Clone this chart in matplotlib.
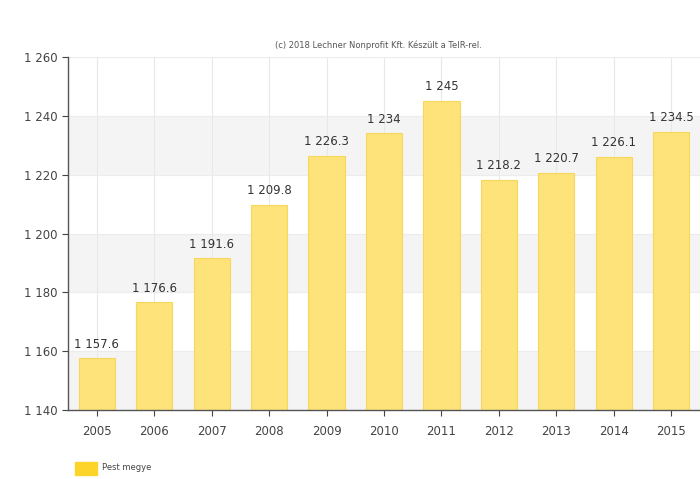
import matplotlib
matplotlib.use("Agg")
import matplotlib.pyplot as plt
from matplotlib.patches import Rectangle

# Adatok
years = ["2005", "2006", "2007", "2008", "2009", "2010", "2011", "2012", "2013", "2014", "2015"]
values = [1157.6, 1176.6, 1191.6, 1209.8, 1226.3, 1234, 1245, 1218.2, 1220.7, 1226.1, 1234.5]
y_ticks = [1140, 1160, 1180, 1200, 1220, 1240, 1260]


def fmt(v):
    # magyar ezres elvalaszto: szokoz
    if float(v).is_integer():
        s = "{:,}".format(int(v))
    else:
        s = "{:,.1f}".format(v)
    return s.replace(",", " ")


fig = plt.figure(figsize=(7, 4.79), dpi=100)
ax = fig.add_axes([68 / 700, 1 - 410 / 479, 1 - 68 / 700, (410 - 57) / 479])

x = list(range(len(years)))

# alternating bands
for i in range(len(y_ticks) - 1):
    if i % 2 == 0:
        ax.axhspan(y_ticks[i], y_ticks[i + 1], color="#f4f4f4", zorder=0, lw=0)
for xi in x:
    ax.axvline(xi, color="#e8e8e8", lw=0.8, zorder=0.5)
for yt in y_ticks:
    ax.axhline(yt, color="#ececec", lw=0.8, zorder=0.5)

bars = ax.bar(x, values, width=0.63, color="#fde37a", edgecolor="#f6d75a",
              linewidth=0.8, zorder=2)
for xi, v in zip(x, values):
    ax.text(xi, v + 2.6, fmt(v), ha="center", va="bottom", fontsize=8.5,
            color="#333333", zorder=3)

ax.set_xlim(-0.5, len(years) - 0.5)
ax.set_ylim(1140, 1260)
ax.set_yticks(y_ticks)
ax.set_yticklabels([fmt(t) for t in y_ticks])
ax.set_xticks(x)
ax.set_xticklabels(years)
ax.tick_params(axis="both", labelsize=8.5, colors="#444444", length=4, width=0.8)
ax.tick_params(axis="x", pad=7)

for side in ["top", "right"]:
    ax.spines[side].set_visible(False)
for side in ["left", "bottom"]:
    ax.spines[side].set_color("#555555")
    ax.spines[side].set_linewidth(1.0)

fig.text(378 / 700, 1 - 45 / 479, "(c) 2018 Lechner Nonprofit Kft. Készült a TeIR-rel.",
         ha="center", va="center", fontsize=6, color="#555555")

# legend
fig.patches.append(Rectangle((75 / 700, 1 - 475 / 479), 22 / 700, 13 / 479,
                             transform=fig.transFigure, color="#fdd52a"))
fig.text(102 / 700, 1 - 468 / 479, "Pest megye", ha="left", va="center",
         fontsize=6, color="#444444")

fig.savefig("out.png", dpi=100)
